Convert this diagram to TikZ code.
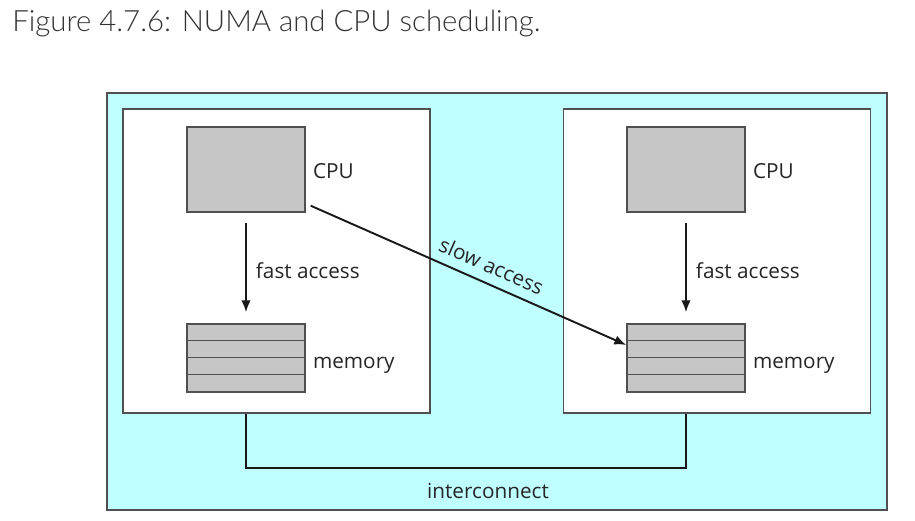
\documentclass[tikz,border=0pt]{standalone}
\usepackage{fontspec}
\setsansfont{Open Sans}
\newfontfamily\titlefont{Lato Light}
\usetikzlibrary{arrows.meta,positioning}
\definecolor{numacyan}{RGB}{192,255,255}
\definecolor{cpugray}{RGB}{198,198,198}
\definecolor{framegray}{RGB}{80,80,80}
\begin{document}
\begin{tikzpicture}[x=0.02cm,y=-0.02cm,font=\sffamily\fontsize{11.8}{14}\selectfont]
        \tikzstyle{frame}=[draw=framegray,line width=0.8pt,fill=numacyan,minimum width=15.6cm,minimum height=8.34cm,inner sep=0]
        \tikzstyle{board}=[draw=framegray,line width=0.8pt,fill=white,minimum width=6.14cm,minimum height=6.08cm,inner sep=0]
        \tikzstyle{cpu}=[draw=framegray,line width=0.8pt,fill=cpugray,minimum width=2.36cm,minimum height=1.7cm,inner sep=0]
        \tikzstyle{mem}=[draw=framegray,line width=0.8pt,fill=cpugray,minimum width=2.36cm,minimum height=1.36cm,inner sep=0]
        \tikzstyle{txt}=[inner sep=0,text=black!85]
        \tikzstyle{edge}=[draw,line width=1.1pt,black!90]
        \tikzstyle{access}=[edge,-{Latex[length=2.4mm,width=1.9mm]}]
        \useasboundingbox (0,0) rectangle (915,520);
        \node [anchor=base west,inner sep=0,text=black!80,font=\titlefont\fontsize{16.7}{20}\selectfont] (title) at (12,32) {Figure 4.7.6: NUMA and CPU scheduling.};
        \node [frame] (numa) at (497,301.5) {};
        \node [board] (boardL) at (276.5,261) {};
        \node [board] (boardR) at (717,261) {};

        \node [cpu] (cpuL) at (246,169.5) {};
        \node [cpu] (cpuR) at (686,169.5) {};
        \node [mem] (memL) at (246,358) {};
        \node [mem] (memR) at (686,358) {};
        \foreach \m in {memL,memR}
          \foreach \s in {1,2,3}
            \draw [framegray,line width=0.8pt] ([yshift=-\s*0.34cm]\m.north west) -- ([yshift=-\s*0.34cm]\m.north east);

        \node [txt,anchor=west,right=0.14cm of cpuL,yshift=-0.04cm] (cpuLtxt) {CPU};
        \node [txt,anchor=west,right=0.14cm of cpuR,yshift=-0.04cm] (cpuRtxt) {CPU};
        \node [txt,anchor=west,right=0.14cm of memL,yshift=-0.14cm] (memLtxt) {memory};
        \node [txt,anchor=west,right=0.14cm of memR,yshift=-0.14cm] (memRtxt) {memory};

        \path[access,shorten <=0.2cm,shorten >=0.22cm] (cpuL) -- node[txt,right=0.18cm,pos=0.52] {fast access} (memL);
        \path[access,shorten <=0.2cm,shorten >=0.22cm] (cpuR) -- node[txt,right=0.18cm,pos=0.52] {fast access} (memR);
        \path[access] ([shift={(5,-7)}]cpuL.south east) -- node[txt,sloped,above=0.18cm,pos=0.55] {slow access} ([shift={(0,-13)}]memR.west);

        \path[edge] (cpuL.south |- boardL.south) -- ++(0,54) -| node[txt,pos=0.25,below=0.3cm,xshift=0.44cm] (ictxt) {interconnect} (cpuR.south |- boardR.south);
\end{tikzpicture}
\end{document}
